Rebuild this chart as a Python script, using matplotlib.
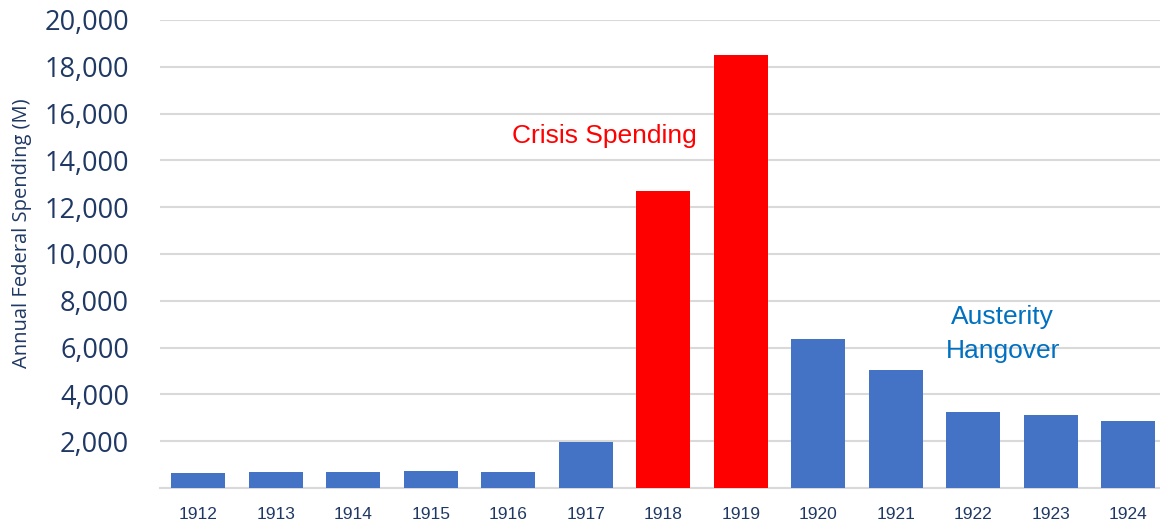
import matplotlib.pyplot as plt
from matplotlib.ticker import FuncFormatter

# Data
years = ['1912', '1913', '1914', '1915', '1916', '1917', '1918',
         '1919', '1920', '1921', '1922', '1923', '1924']
spending = [650, 680, 690, 710, 680, 1950, 12700,
            18500, 6360, 5040, 3260, 3110, 2880]
crisis_years = ['1918', '1919']

blue = '#4472C4'
red = '#FF0000'
navy = '#1F3864'
sans = ['Liberation Sans', 'DejaVu Sans']

fig = plt.figure(figsize=(11.6, 5.27), dpi=100)
ax = fig.add_axes([159.5 / 1160, 39 / 527, 1 - 159.5 / 1160, 468 / 527])

colors = [red if y in crisis_years else blue for y in years]
x = range(len(years))
ax.bar(x, spending, width=0.7, color=colors, zorder=3)

ax.set_xlim(-0.5, 12.41)
ax.set_ylim(0, 20000)
ax.set_yticks(range(0, 20001, 2000))
ax.yaxis.set_major_formatter(FuncFormatter(lambda v, p: '' if v == 0 else f'{int(v):,}'))
ax.set_xticks(list(x))
ax.set_xticklabels(years)

ax.grid(axis='y', color='#D9D9D9', linewidth=1.5, zorder=0)
for s in ['top', 'right', 'left']:
    ax.spines[s].set_visible(False)
ax.spines['bottom'].set_color('#D9D9D9')
ax.spines['bottom'].set_linewidth(1.5)
ax.tick_params(axis='both', length=0)
ax.tick_params(axis='y', labelsize=19.5, labelcolor=navy, pad=22)
ax.tick_params(axis='x', labelsize=12.5, labelcolor=navy, pad=14)
for lbl in ax.get_yticklabels():
    lbl.set_family(['Open Sans', 'DejaVu Sans'])
for lbl in ax.get_xticklabels():
    lbl.set_family(sans)

fig.text(22 / 1160, 1 - 233 / 527, 'Annual Federal Spending (M)', rotation=90,
         ha='center', va='center', fontsize=14.5, color=navy, family=['Open Sans', 'DejaVu Sans'])

ax.text(5.24, 15040, 'Crisis Spending', ha='center', va='center', fontsize=19,
        color=red, zorder=5, family=sans)
ax.text(10.38, 6580, 'Austerity\nHangover', ha='center', va='center', fontsize=19,
        color='#0070C0', linespacing=1.5, zorder=5, family=sans)

fig.savefig('out.png', dpi=100)
